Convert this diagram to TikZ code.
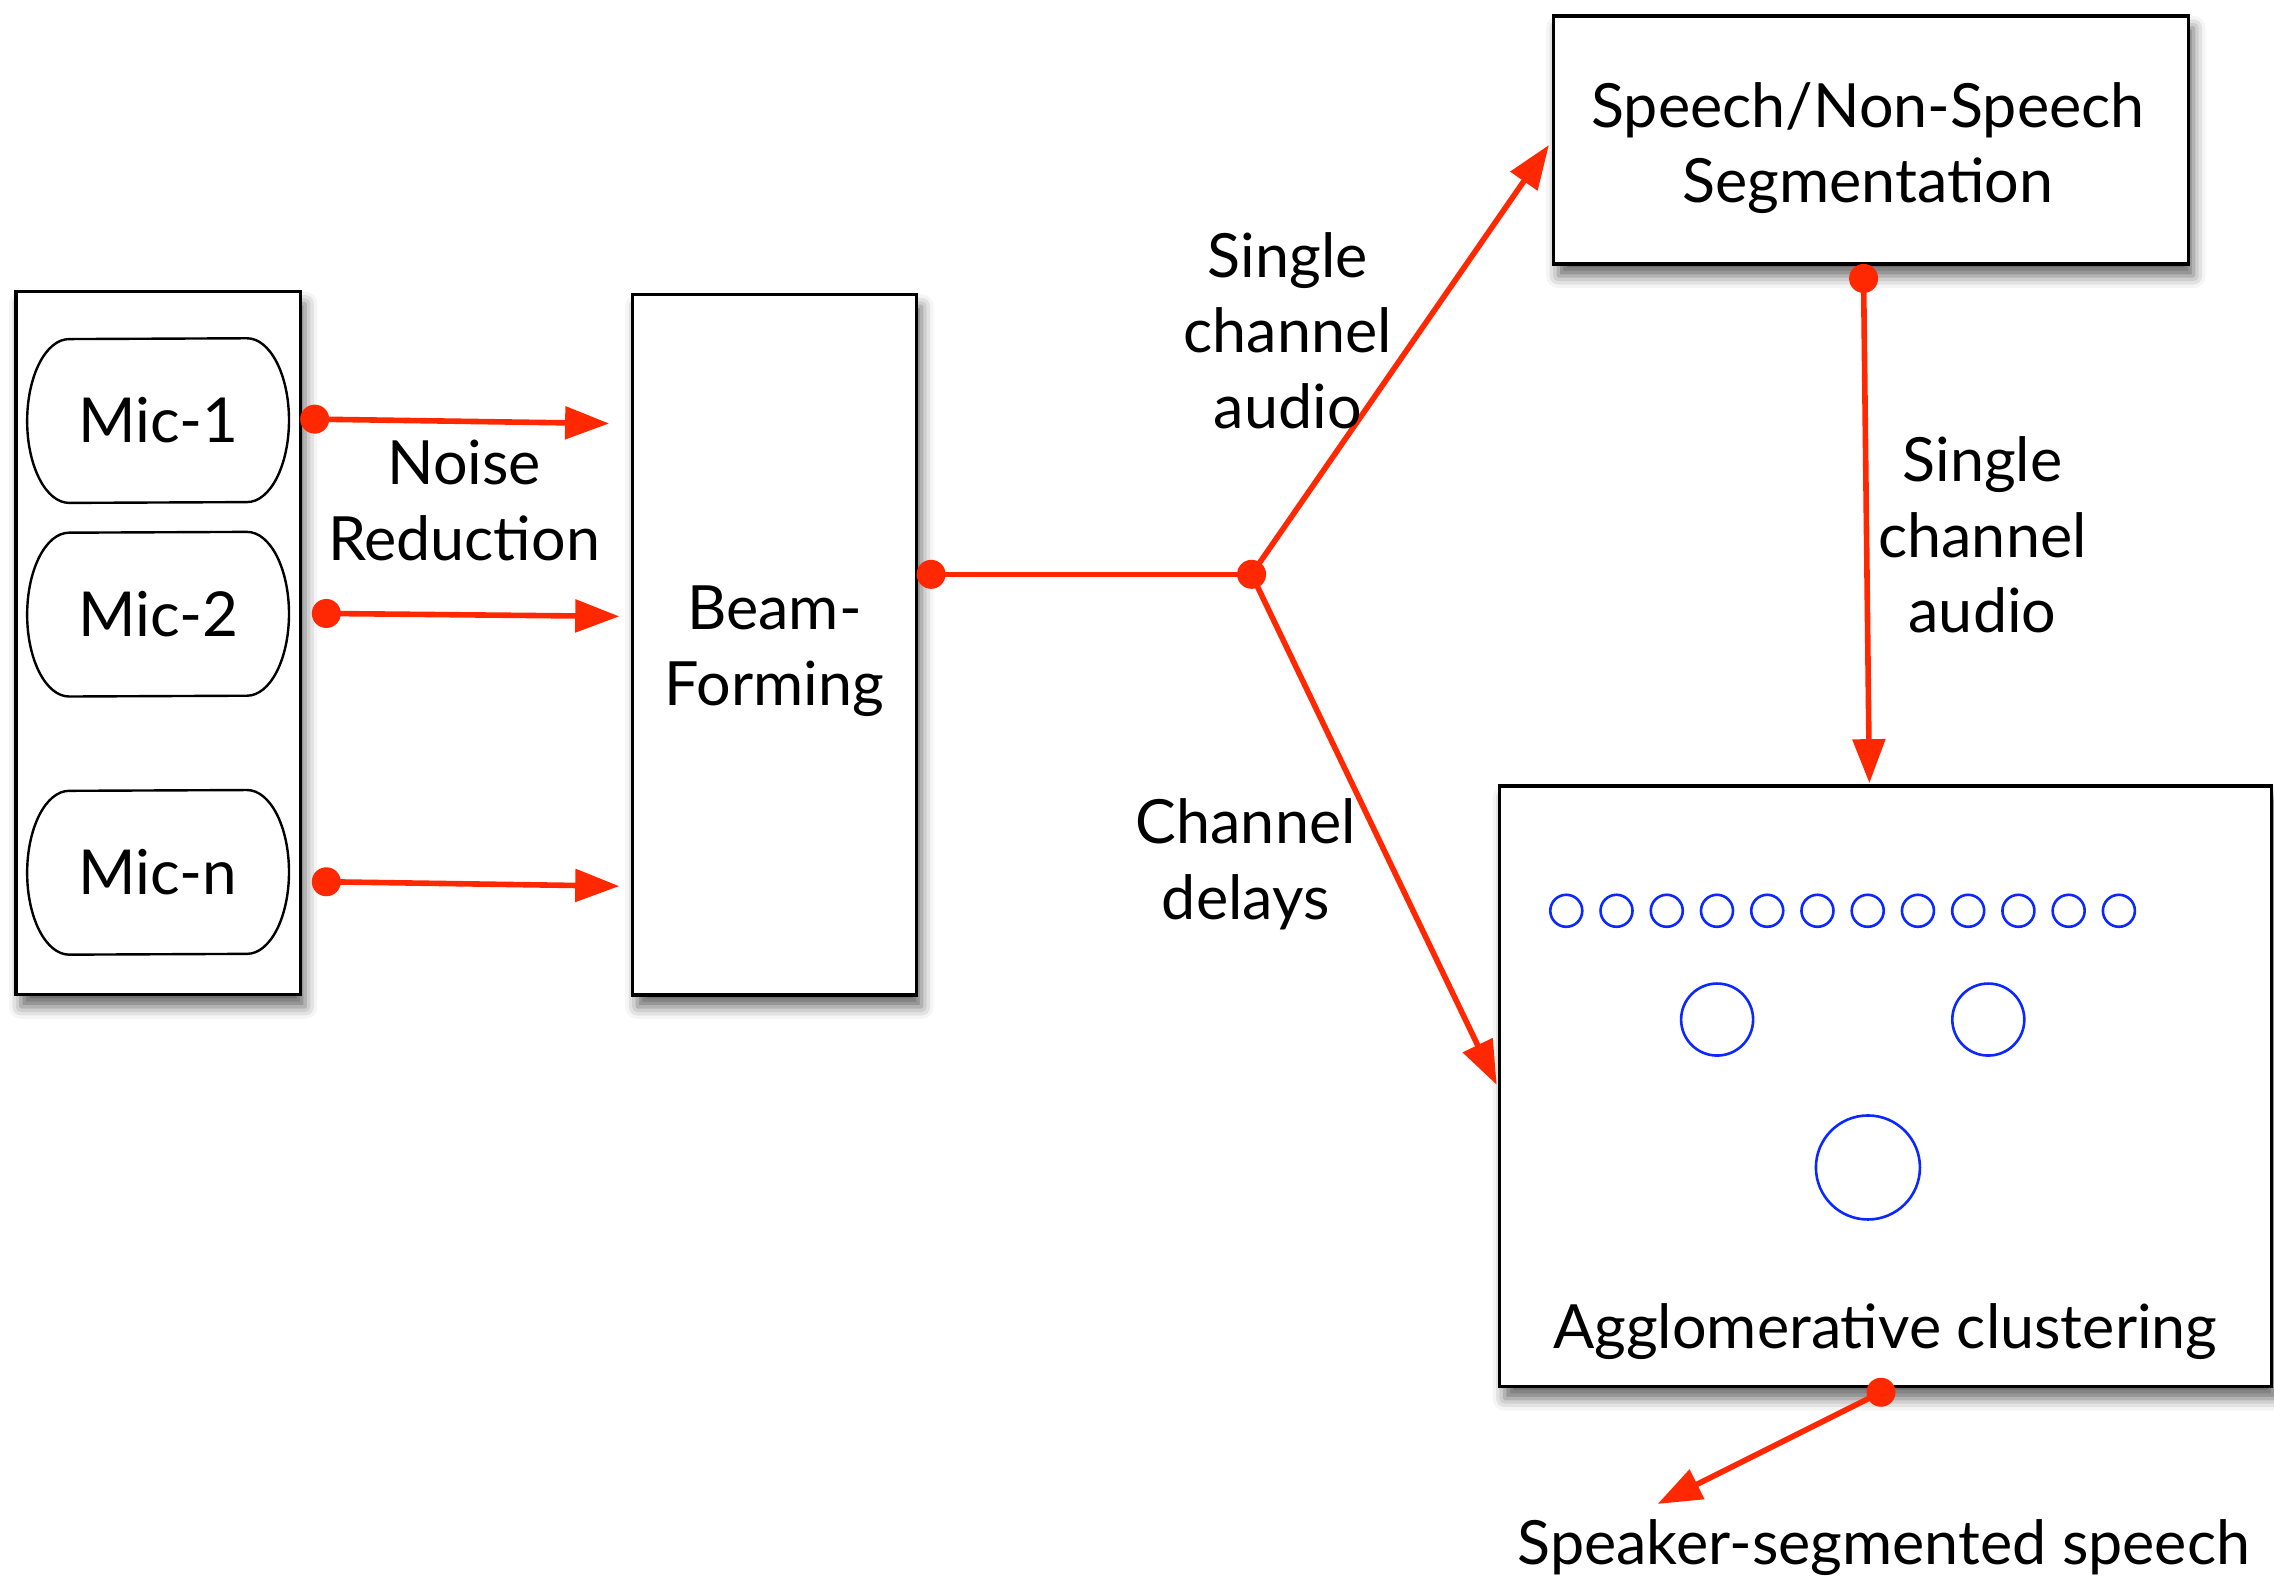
\documentclass[tikz,border=0pt]{standalone}
\usepackage{fontspec}
\setmainfont{Lato}
\usetikzlibrary{arrows.meta,shadows.blur}
\definecolor{wirered}{RGB}{255,40,0}
\definecolor{clusterblue}{RGB}{10,40,255}

% outline of a microphone node: straight top/bottom, elliptic ends
\newcommand\micoutline[1]{%
  \draw[micline] ([xshift=-21pt]#1.north east)
    arc[start angle=90,end angle=-90,x radius=21pt,y radius=40.95pt]
    -- ([xshift=21pt]#1.south west)
    arc[start angle=270,end angle=90,x radius=21pt,y radius=40.95pt]
    -- cycle;}

\begin{document}
\begin{tikzpicture}[x=0.725pt,y=-0.725pt,
  box/.style={draw=black, line width=1.6pt, fill=white, rectangle, inner sep=0pt,
    blur shadow={shadow xshift=2.5pt, shadow yshift=-6pt, shadow blur radius=6pt, shadow opacity=60}},
  txt/.style={align=center, font=\fontsize{30.5}{37.7}\selectfont, inner sep=0pt},
  micnode/.style={rectangle, minimum width=130.5pt, minimum height=81.9pt, inner sep=0pt,
    font=\fontsize{31}{37.7}\selectfont},
  micline/.style={draw=black, line width=1.2pt},
  wire/.style={draw=wirered, line width=2.8pt},
  arrow/.style={wire, -{Triangle[length=22pt,width=16pt]}},
  dot/.style={circle, fill=wirered, inner sep=0pt, minimum size=14.5pt},
  cl/.style={draw=clusterblue, line width=1.3pt, circle, inner sep=0pt}]

\useasboundingbox (0,0) rectangle (1568,1087);

% blocks
\node[box, minimum width=142.1pt, minimum height=351.6pt] (mics) at (109,443.5) {};
\node[micnode] (mic1) at (109,290) {Mic-1};
\node[micnode] (mic2) at (109,423.5) {Mic-2};
\node[micnode] (micn) at (109,601.5) {Mic-n};
\micoutline{mic1}
\micoutline{mic2}
\micoutline{micn}

\node[box, minimum width=142.1pt, minimum height=350.2pt] (beam) at (534,444.5) {};
\node[txt] (beamtext) at (534,449) {Beam-\\Forming};
\node[box, minimum width=317.6pt, minimum height=124pt] (speech) at (1290,96.5) {};
\node[txt] (speechtext) at (1288,102) {Speech/Non-Speech\\Segmentation};
\node[box, minimum width=385.7pt, minimum height=300.2pt] (agg) at (1300,749) {};
\node[txt] (aggtext) at (1300,918) {Agglomerative clustering};

% clusters
\foreach \i in {0,...,11}
  \node[cl, minimum size=16pt] (s\i) at (1080+34.64*\i,628) {};
\node[cl, minimum size=36pt] (ma) at (1184,703) {};
\node[cl, minimum size=36pt] (mb) at (1371,703) {};
\node[cl, minimum size=52pt] (big) at (1288,805) {};

% connector end points
\coordinate (t1) at (420,292);
\coordinate (t2) at (427,425);
\coordinate (tn) at (427,611);
\coordinate (tsp) at (1068,100);
\coordinate (tag) at (1032,748);
\coordinate (tvd) at (1289,540);
\coordinate (tout) at (1143,1037);

\node[dot] (d1) at (217,289) {};
\node[dot] (d2) at (225,423) {};
\node[dot] (dn) at (225,608) {};
\node[dot] (db) at (642,396) {};
\node[dot] (j) at (863,396) {};
\node[dot] (ds) at (1285,192) {};
\node[dot] (da) at (1297,960) {};

% connectors
\draw[arrow] (d1.center) -- (t1);
\draw[arrow] (d2.center) -- (t2);
\draw[arrow] (dn.center) -- (tn);
\draw[wire] (db.center) -- (j.center);
\draw[arrow] (j.center) -- (tsp);
\draw[arrow] (j.center) -- (tag);
\draw[arrow] (ds.center) -- (tvd);
\draw[arrow] (da.center) -- (tout);

% labels
\node[txt] (nr) at (320,345) {Noise\\Reduction};
\node[txt] (sca1) at (888,228) {Single\\channel\\audio};
\node[txt] (cd) at (859,596) {Channel\\delays};
\node[txt] (sca2) at (1367,369) {Single\\channel\\audio};
\node[txt, anchor=base] (out) at (1299,1079) {Speaker-segmented speech};
\end{tikzpicture}
\end{document}
